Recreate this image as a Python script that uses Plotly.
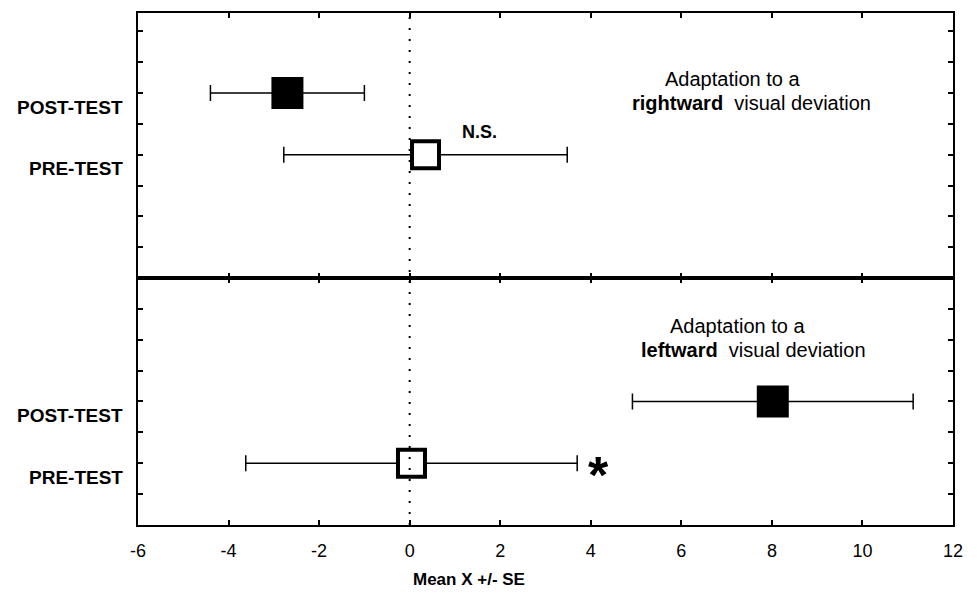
import plotly.graph_objects as go

# ---- data ----
conditions = ["POST-TEST", "PRE-TEST"]
top_mean = [-2.70, 0.35]      # rightward deviation panel
top_se = [1.70, 3.13]
top_pos = [6, 4]
bot_mean = [8.02, 0.04]       # leftward deviation panel
bot_se = [3.10, 3.66]
bot_pos = [4, 2]
x_ticks = [-6, -4, -2, 0, 2, 4, 6, 8, 10, 12]
x_ticktext = [str(v) for v in x_ticks]

FONT = "Liberation Sans, Arial, sans-serif"
W, H = 977, 593
# page body has an 8px margin, so plot-area margins are offset by 8px
ML, MR, MT, MB = 130, 32, 3, 76
PLOT_H = H - MT - MB
split = (525 - 277) / PLOT_H

fig = go.Figure()

def add_panel(means, ses, pos, xa, ya):
    # filled square = post-test, open square = pre-test
    fills = ["black", "white"]
    sizes = [32, 27]
    lw = [0, 4]
    for m, s, p, f, sz, w in zip(means, ses, pos, fills, sizes, lw):
        fig.add_trace(go.Scatter(
            x=[m], y=[p], mode="markers", xaxis=xa, yaxis=ya,
            marker=dict(symbol="square", size=sz, color=f,
                        line=dict(color="black", width=w)),
            error_x=dict(type="data", array=[s], color="black",
                         thickness=1.5, width=8),
            showlegend=False, hoverinfo="skip"))

add_panel(top_mean, top_se, top_pos, "x2", "y2")
add_panel(bot_mean, bot_se, bot_pos, "x", "y")

axis_common = dict(showline=True, linecolor="black", linewidth=2, mirror="ticks",
                   ticks="inside", ticklen=5, tickwidth=1.5, tickcolor="black",
                   showgrid=False, zeroline=False)

fig.update_layout(
    width=W, height=H,
    margin=dict(l=ML, r=MR, t=MT, b=MB),
    paper_bgcolor="white", plot_bgcolor="white",
    font=dict(family=FONT, color="black"),
    xaxis=dict(domain=[0, 1], range=[-6, 12], tickvals=x_ticks, ticktext=x_ticktext,
               ticklabelstandoff=8, tickfont=dict(size=18, family=FONT),
               anchor="y", **axis_common),
    yaxis=dict(domain=[0, split], range=[0, 8], tickvals=list(range(1, 8)),
               showticklabels=False, anchor="x", **axis_common),
    xaxis2=dict(domain=[0, 1], range=[-6, 12], tickvals=x_ticks,
                showticklabels=False, anchor="y2", matches="x", **axis_common),
    yaxis2=dict(domain=[split, 1], range=[0, 8.6], tickvals=list(range(1, 9)),
                showticklabels=False, anchor="x2", **axis_common),
)

# dotted zero line through both panels
fig.add_shape(type="line", xref="x", yref="paper", x0=0, x1=0, y0=0, y1=1,
              line=dict(color="black", width=2, dash="2px,9px"), layer="above")
# thick separator between panels
fig.add_shape(type="line", xref="paper", yref="paper", x0=0, x1=1, y0=split, y1=split,
              line=dict(color="black", width=3.5), layer="above")

ann = []
# condition labels
for c, p in zip(conditions, top_pos):
    ann.append(dict(text=f"<b>{c}</b>", xref="paper", x=-0.0155, xanchor="right",
                    yref="y2", y=p, yshift=-14, showarrow=False,
                    font=dict(size=19, family=FONT)))
for c, p in zip(conditions, bot_pos):
    ann.append(dict(text=f"<b>{c}</b>", xref="paper", x=-0.0155, xanchor="right",
                    yref="y", y=p, yshift=-14, showarrow=False,
                    font=dict(size=19, family=FONT)))

# panel captions
ann += [
    dict(text="Adaptation to a", xref="x2", x=7.12, yref="y2", y=6.45,
         showarrow=False, font=dict(size=20, family=FONT)),
    dict(text="<b>rightward</b>  visual deviation", xref="x2", x=7.55, yref="y2", y=5.68,
         showarrow=False, font=dict(size=20, family=FONT)),
    dict(text="Adaptation to a", xref="x", x=7.24, yref="y", y=6.45,
         showarrow=False, font=dict(size=20, family=FONT)),
    dict(text="<b>leftward</b>  visual deviation", xref="x", x=7.60, yref="y", y=5.68,
         showarrow=False, font=dict(size=20, family=FONT)),
    dict(text="<b>N.S.</b>", xref="x2", x=1.55, yref="y2", y=4.75,
         showarrow=False, font=dict(size=18, family=FONT)),
    dict(text="<b>*</b>", xref="x", x=4.16, yref="y", y=2, yshift=-12,
         showarrow=False, font=dict(size=52, family=FONT)),
    dict(text="<b>Mean X +/- SE</b>", xref="paper", x=(469 - 138) / 815,
         yref="paper", y=(525 - 580) / PLOT_H, yanchor="middle", showarrow=False,
         font=dict(size=17, family=FONT)),
]
fig.update_layout(annotations=ann)

fig.write_html("out.html")
